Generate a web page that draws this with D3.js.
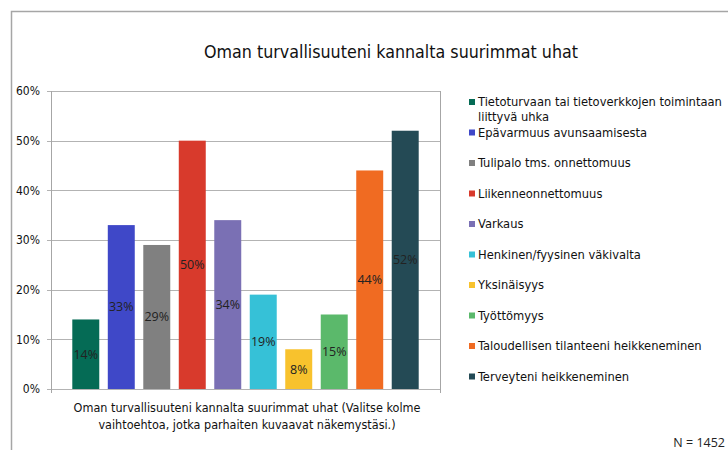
<!DOCTYPE html>
<html>
<head>
<meta charset="utf-8">
<script src="https://cdn.jsdelivr.net/npm/d3@7"></script>
<style>
  body { margin: 0; background: #fff; }
  svg { display: block; }
  .main { font-family: "DejaVu Sans Condensed", "DejaVu Sans", sans-serif; fill: #111; }
  .num { font-family: "Open Sans", "Liberation Sans", sans-serif; fill: #222; }
</style>
</head>
<body>
<div class="chart"></div>
<script>
var w = 728,
  h = 450;

// data
var categories = [
  'Tietoturvaan tai tietoverkkojen toimintaan|liittyvä uhka',
  'Epävarmuus avunsaamisesta',
  'Tulipalo tms. onnettomuus',
  'Liikenneonnettomuus',
  'Varkaus',
  'Henkinen/fyysinen väkivalta',
  'Yksinäisyys',
  'Työttömyys',
  'Taloudellisen tilanteeni heikkeneminen',
  'Terveyteni heikkeneminen'
];
var values = [14, 33, 29, 50, 34, 19, 8, 15, 44, 52];
var colors = ['#056b55', '#3f48c8', '#808080', '#d83a2c', '#7a70b4', '#36c1d7', '#f8c22d', '#5bb96b', '#f06b22', '#244a55'];
var yTicks = [0, 10, 20, 30, 40, 50, 60];
var title = 'Oman turvallisuuteni kannalta suurimmat uhat';
var xTitle = ['Oman turvallisuuteni kannalta suurimmat uhat (Valitse kolme', 'vaihtoehtoa, jotka parhaiten kuvaavat näkemystäsi.)'];
var note = 'N = 1452';

var plot = { left: 51, right: 440, top: 91, bottom: 389 };

var svg = d3.select('.chart')
  .append('svg')
  .attr('width', w)
  .attr('height', h);

// outer frame
svg.append('path')
  .attr('d', 'M11.5,' + h + 'V11.5H' + w)
  .attr('fill', 'none')
  .attr('stroke', '#a6a6a6')
  .attr('stroke-width', 1.5);

var x = d3.scaleBand()
  .domain(d3.range(categories.length))
  .range([plot.left, plot.right])
  .paddingInner(0.24)
  .paddingOuter(0.6);

var y = d3.scaleLinear()
  .domain([0, 60])
  .range([plot.bottom, plot.top]);

// gridlines
svg.append('g')
  .selectAll('line')
  .data(yTicks)
  .enter()
  .append('line')
  .attr('x1', plot.left - 4)
  .attr('x2', plot.right)
  .attr('y1', function (d) { return Math.round(y(d)) + 0.5; })
  .attr('y2', function (d) { return Math.round(y(d)) + 0.5; })
  .attr('stroke', '#b3b3b3')
  .attr('stroke-width', 1);

// plot frame sides
svg.append('path')
  .attr('d', 'M' + (plot.left + 0.5) + ',' + plot.top + 'V' + (plot.bottom + 4) +
    'M' + (plot.right + 0.5) + ',' + plot.top + 'V' + (plot.bottom + 4))
  .attr('stroke', '#a6a6a6')
  .attr('fill', 'none');

// y tick labels
svg.append('g')
  .selectAll('text')
  .data(yTicks)
  .enter()
  .append('text')
  .attr('class', 'main')
  .attr('x', 40)
  .attr('y', function (d) { return y(d); })
  .attr('dy', '0.35em')
  .attr('text-anchor', 'end')
  .attr('font-size', '12px')
  .text(function (d) { return d + '%'; });

// bars
svg.append('g')
  .selectAll('rect')
  .data(values)
  .enter()
  .append('rect')
  .attr('x', function (d, i) { return x(i); })
  .attr('y', function (d) { return y(d); })
  .attr('width', x.bandwidth())
  .attr('height', function (d) { return y(0) - y(d); })
  .attr('fill', function (d, i) { return colors[i]; });

// bar labels
svg.append('g')
  .selectAll('text')
  .data(values)
  .enter()
  .append('text')
  .attr('class', 'num')
  .attr('x', function (d, i) { return x(i) + x.bandwidth() / 2; })
  .attr('y', function (d) { return (y(d) + y(0)) / 2; })
  .attr('dy', '0.35em')
  .attr('text-anchor', 'middle')
  .attr('font-size', '12.5px')
  .text(function (d) { return d + '%'; });

// title
svg.append('text')
  .attr('class', 'main')
  .attr('x', 391)
  .attr('y', 58)
  .attr('text-anchor', 'middle')
  .attr('font-size', '17.7px')
  .text(title);

// x axis title
svg.append('text')
  .attr('class', 'main')
  .attr('x', 247)
  .attr('y', 412)
  .attr('text-anchor', 'middle')
  .attr('font-size', '12.5px')
  .selectAll('tspan')
  .data(xTitle)
  .enter()
  .append('tspan')
  .attr('x', 247)
  .attr('dy', function (d, i) { return i ? 17 : 0; })
  .text(function (d) { return d; });

// legend
var legend = svg.append('g')
  .selectAll('g')
  .data(categories)
  .enter()
  .append('g')
  .attr('transform', function (d, i) { return 'translate(469,' + (102 + i * 30.5) + ')'; });

legend.append('rect')
  .attr('x', 0)
  .attr('y', -3)
  .attr('width', 6)
  .attr('height', 6)
  .attr('fill', function (d, i) { return colors[i]; });

legend.append('text')
  .attr('class', 'main')
  .attr('font-size', '12.8px')
  .selectAll('tspan')
  .data(function (d) { return d.split('|'); })
  .enter()
  .append('tspan')
  .attr('x', 9)
  .attr('y', function (d, i) { return i * 15; })
  .attr('dy', '0.35em')
  .text(function (d) { return d; });

// respondents
svg.append('text')
  .attr('class', 'num')
  .attr('x', 725)
  .attr('y', 443)
  .attr('dy', '0.35em')
  .attr('text-anchor', 'end')
  .attr('font-size', '12.5px')
  .text(note);
</script>
</body>
</html>
